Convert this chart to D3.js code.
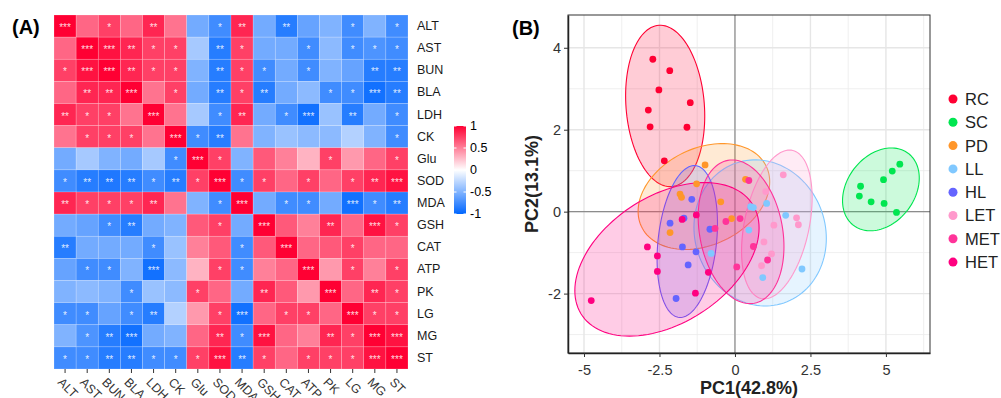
<!DOCTYPE html>
<html>
<head>
<meta charset="utf-8">
<script src="https://d3js.org/d3.v7.min.js"></script>
<style>
body { margin: 0; background: #fff; }
svg { display: block; font-family: "Liberation Sans", Arial, sans-serif; }
</style>
</head>
<body>
<div id="chart"></div>
<script>
// ---- data: correlation heatmap (A) ----
var vars = ["ALT", "AST", "BUN", "BLA", "LDH", "CK", "Glu", "SOD", "MDA", "GSH", "CAT", "ATP", "PK", "LG", "MG", "ST"];
var corrValues = [
    [1, .6, .75, .6, .85, .55, -.55, -.75, .85, -.55, -.85, -.6, -.5, -.75, -.5, -.75],
    [.6, 1, .93, .85, .75, .75, -.35, -.85, .75, -.55, -.55, -.75, -.45, -.75, -.7, -.75],
    [.75, .93, 1, .85, .75, .75, -.5, -.85, .75, -.75, -.55, -.75, -.5, -.6, -.85, -.85],
    [.6, .85, .85, 1, .55, .75, -.55, -.85, .75, -.85, -.55, -.45, -.75, -.75, -.93, -.85],
    [.85, .75, .75, .55, 1, .55, -.35, -.75, .85, -.55, -.75, -.93, -.4, -.85, -.55, -.75],
    [.55, .75, .75, .75, .55, 1, -.75, -.85, .55, -.5, -.4, -.45, -.45, -.3, -.5, -.75],
    [-.55, -.35, -.5, -.55, -.35, -.75, 1, .75, -.5, .65, .5, .3, .75, .4, .6, .75],
    [-.75, -.85, -.88, -.85, -.75, -.85, .75, 1, -.75, .75, .6, .75, .6, .75, .85, .93],
    [.85, .75, .75, .75, .85, .55, -.5, -.75, 1, -.55, -.75, -.75, -.55, -.93, -.75, -.85],
    [-.55, -.6, -.75, -.85, -.55, -.5, .65, .75, -.55, 1, .65, .5, .85, .6, .93, .75],
    [-.85, -.55, -.55, -.55, -.75, -.4, .5, .65, -.75, .65, 1, .6, .65, .75, .6, .6],
    [-.6, -.75, -.75, -.5, -.93, -.45, .3, .75, -.75, .5, .6, 1, .4, .75, .5, .75],
    [-.5, -.45, -.5, -.75, -.4, -.45, .75, .6, -.55, .85, .65, .4, 1, .6, .85, .75],
    [-.75, -.75, -.6, -.75, -.85, -.3, .4, .75, -.93, .6, .75, .75, .6, 1, .75, .75],
    [-.5, -.7, -.85, -.93, -.55, -.5, .6, .85, -.75, .93, .6, .5, .85, .75, 1, .93],
    [-.75, -.75, -.85, -.85, -.75, -.75, .75, .93, -.85, .75, .6, .75, .75, .75, .93, 1]
];
var corrStars = [
    [3, 0, 1, 0, 2, 0, 0, 1, 2, 0, 2, 0, 0, 1, 0, 1],
    [0, 3, 3, 2, 1, 1, 0, 2, 1, 0, 0, 1, 0, 1, 1, 1],
    [1, 3, 3, 2, 1, 1, 0, 2, 1, 1, 0, 1, 0, 0, 2, 2],
    [0, 2, 2, 3, 0, 1, 0, 2, 1, 2, 0, 0, 1, 1, 3, 2],
    [2, 1, 1, 0, 3, 0, 0, 1, 2, 0, 1, 3, 0, 2, 0, 1],
    [0, 1, 1, 1, 0, 3, 1, 2, 0, 0, 0, 0, 0, 0, 0, 1],
    [0, 0, 0, 0, 0, 1, 3, 1, 0, 0, 0, 0, 1, 0, 0, 1],
    [1, 2, 2, 2, 1, 2, 1, 3, 1, 1, 0, 1, 0, 1, 2, 3],
    [2, 1, 1, 1, 2, 0, 0, 1, 3, 0, 1, 1, 0, 3, 1, 2],
    [0, 0, 1, 2, 0, 0, 0, 1, 0, 3, 0, 0, 2, 0, 3, 1],
    [2, 0, 0, 0, 1, 0, 0, 0, 1, 0, 3, 0, 0, 1, 0, 0],
    [0, 1, 1, 0, 3, 0, 0, 1, 1, 0, 0, 3, 0, 1, 0, 1],
    [0, 0, 0, 1, 0, 0, 1, 0, 0, 2, 0, 0, 3, 0, 2, 1],
    [1, 1, 0, 1, 2, 0, 0, 1, 3, 0, 1, 1, 0, 3, 1, 1],
    [0, 1, 2, 3, 0, 0, 0, 2, 1, 3, 0, 0, 2, 1, 3, 3],
    [1, 1, 2, 2, 1, 1, 1, 3, 2, 1, 0, 1, 1, 1, 3, 3]
];
var colorbarTicks = [1, 0.5, 0, -0.5, -1];

// ---- data: PCA scores (B) ----
var groups = ["RC", "SC", "PD", "LL", "HL", "LET", "MET", "HET"];
var groupColors = ["#ff0033", "#00e650", "#ff962a", "#80c8ff", "#6464ff", "#ff99cc", "#ff3399", "#ff0080"];
var pc1 = [
    [-2.72, -2.16, -2.52, -1.48, -2.87, -2.81, -1.59, -2.34],
    [4.16, 4.12, 4.51, 4.94, 4.92, 5.21, 5.46, 5.35],
    [-0.99, -1.27, -1.82, -1.77, -2.15, 0.35, -0.47, -0.11],
    [0.52, 0.61, 1.05, 1.68, 0.46, -0.79, 0.92, 2.22],
    [-1.43, -1.69, -2.15, -0.83, -1.74, -1.29, -1.55, -1.95],
    [1.60, 1.02, 2.04, 2.10, 1.29, 0.96, 1.21, 0.88],
    [0.46, -0.30, 0.17, -0.66, 0.61, 0.06, 1.08],
    [-1.28, -1.75, -2.90, -2.57, -2.57, -1.31, -4.76, -0.88]
];
var pc2 = [
    [3.72, 3.44, 2.97, 2.66, 2.48, 2.07, 2.06, 1.24],
    [0.62, 0.38, 0.24, 0.20, 0.78, 0.99, 1.16, -0.02],
    [1.14, 0.68, 0.43, 0.35, -0.51, 0.79, 0.24, -0.17],
    [0.12, 0.10, 0.20, -0.09, -0.45, -1.02, -1.61, -1.40],
    [0.30, -0.16, -0.28, -0.43, -0.86, -0.98, -1.30, -2.12],
    [0.90, 0.49, -0.15, -0.32, -0.33, -0.74, -1.03, -1.32],
    [0.76, -0.24, -0.17, -0.41, -0.85, -1.35, -1.18],
    [-0.08, -0.19, -0.86, -1.08, -1.46, -1.99, -2.17, -1.48]
];
var xTicks = [-5, -2.5, 0, 2.5, 5];
var yTicks = [-2, 0, 2, 4];

var svg = d3.select("#chart").append("svg")
    .attr("width", 1001)
    .attr("height", 398);

// ================= (A) heatmap =================
var hm = { left: 54, top: 15, size: 354 };
var xb = d3.scaleBand().domain(vars).range([hm.left, hm.left + hm.size]);
var yb = d3.scaleBand().domain(vars).range([hm.top, hm.top + hm.size]);
var color = d3.scaleLinear().domain([-1, 0, 1]).range(["#0066ff", "#ffffff", "#ff0033"]);

var cells = [];
vars.forEach(function (r, i) {
    vars.forEach(function (c, j) {
        cells.push({ r: r, c: c, v: corrValues[i][j], s: corrStars[i][j] });
    });
});
var bw = xb.bandwidth();
svg.append("g").selectAll("rect").data(cells).enter().append("rect")
    .attr("x", d => xb(d.c))
    .attr("y", d => yb(d.r))
    .attr("width", bw)
    .attr("height", bw)
    .attr("fill", d => color(d.v))
    .attr("stroke", "#fff")
    .attr("stroke-opacity", 0.3)
    .attr("stroke-width", 0.6);
svg.append("g").selectAll("text").data(cells.filter(d => d.s > 0)).enter().append("text")
    .attr("x", d => xb(d.c) + bw / 2)
    .attr("y", d => yb(d.r) + bw / 2 + 5)
    .attr("text-anchor", "middle")
    .attr("font-size", "10px")
    .attr("fill", "#fff")
    .attr("fill-opacity", 0.85)
    .text(d => "*".repeat(d.s));

// x axis (rotated labels)
var xax = svg.append("g")
    .attr("transform", "translate(0," + (hm.top + hm.size) + ")")
    .call(d3.axisBottom(xb).tickSize(4).tickSizeOuter(0));
xax.select(".domain").remove();
xax.selectAll("line").attr("stroke", "#333");
xax.selectAll("text")
    .attr("x", 0).attr("y", 0).attr("dy", 0)
    .attr("transform", "translate(-8,14) rotate(45)")
    .attr("text-anchor", "start")
    .attr("font-size", "12.5px")
    .attr("fill", "#333");

// y axis labels on the right
var yax = svg.append("g")
    .attr("transform", "translate(" + (hm.left + hm.size) + ",0)")
    .call(d3.axisRight(yb).tickSize(0).tickPadding(9));
yax.select(".domain").remove();
yax.selectAll("text")
    .attr("font-size", "12.5px")
    .attr("fill", "#1a1a1a");

// colorbar
var cb = { x: 454, w: 12, top: 126, bottom: 214 };
var cy = d3.scaleLinear().domain([-1, 1]).range([cb.bottom, cb.top]);
var grad = svg.append("defs").append("linearGradient")
    .attr("id", "cbgrad").attr("x1", 0).attr("y1", 1).attr("x2", 0).attr("y2", 0);
d3.range(-1, 1.01, 0.25).forEach(function (v) {
    grad.append("stop").attr("offset", (v + 1) / 2).attr("stop-color", color(v));
});
svg.append("rect")
    .attr("x", cb.x).attr("y", cb.top)
    .attr("width", cb.w).attr("height", cb.bottom - cb.top)
    .attr("fill", "url(#cbgrad)");
var cbg = svg.append("g").selectAll("g").data(colorbarTicks).enter().append("g");
cbg.append("line")
    .attr("x1", cb.x).attr("x2", cb.x + 2.5)
    .attr("y1", d => cy(d)).attr("y2", d => cy(d))
    .attr("stroke", "#fff");
cbg.append("line")
    .attr("x1", cb.x + cb.w - 2.5).attr("x2", cb.x + cb.w)
    .attr("y1", d => cy(d)).attr("y2", d => cy(d))
    .attr("stroke", "#fff");
cbg.append("text")
    .attr("x", cb.x + cb.w + 4)
    .attr("y", d => cy(d))
    .attr("dy", "0.35em")
    .attr("font-size", "12.5px")
    .attr("fill", "#000")
    .text(d => String(d));

svg.append("text")
    .attr("x", 12).attr("y", 34)
    .attr("font-size", "20px").attr("font-weight", "bold")
    .text("(A)");

// ================= (B) PCA =================
var pn = { left: 568, right: 930, top: 15, bottom: 353 };
var px = d3.scaleLinear().domain([-5.53, 6.46]).range([pn.left, pn.right]);
var py = d3.scaleLinear().domain([-3.45, 4.8]).range([pn.bottom, pn.top]);

svg.select("defs").append("clipPath").attr("id", "pclip")
    .append("rect")
    .attr("x", pn.left).attr("y", pn.top)
    .attr("width", pn.right - pn.left).attr("height", pn.bottom - pn.top);

var grid = svg.append("g");
var minorX = [-3.75, -1.25, 1.25, 3.75, 6.25];
var minorY = [-3, -1, 1, 3];
grid.selectAll(".mx").data(minorX).enter().append("line")
    .attr("x1", d => px(d)).attr("x2", d => px(d))
    .attr("y1", pn.top).attr("y2", pn.bottom)
    .attr("stroke", "#ebebeb").attr("stroke-width", 0.8);
grid.selectAll(".my").data(minorY).enter().append("line")
    .attr("y1", d => py(d)).attr("y2", d => py(d))
    .attr("x1", pn.left).attr("x2", pn.right)
    .attr("stroke", "#ebebeb").attr("stroke-width", 0.8);
grid.selectAll(".gx").data(xTicks).enter().append("line")
    .attr("x1", d => px(d)).attr("x2", d => px(d))
    .attr("y1", pn.top).attr("y2", pn.bottom)
    .attr("stroke", "#e6e6e6").attr("stroke-width", 1.4);
grid.selectAll(".gy").data(yTicks).enter().append("line")
    .attr("y1", d => py(d)).attr("y2", d => py(d))
    .attr("x1", pn.left).attr("x2", pn.right)
    .attr("stroke", "#e6e6e6").attr("stroke-width", 1.4);
// zero lines
grid.append("line")
    .attr("x1", px(0)).attr("x2", px(0)).attr("y1", pn.top).attr("y2", pn.bottom)
    .attr("stroke", "#8c8c8c").attr("stroke-width", 1.2);
grid.append("line")
    .attr("y1", py(0)).attr("y2", py(0)).attr("x1", pn.left).attr("x2", pn.right)
    .attr("stroke", "#8c8c8c").attr("stroke-width", 1.2);

// 95% normal confidence ellipses computed from the scores
var chi = Math.sqrt(5.991);
function ellipse(xs, ys) {
    var n = xs.length, mx = d3.mean(xs), my = d3.mean(ys);
    var sxx = d3.sum(xs, d => (d - mx) * (d - mx)) / (n - 1);
    var syy = d3.sum(ys, d => (d - my) * (d - my)) / (n - 1);
    var sxy = d3.sum(xs.map((d, i) => (d - mx) * (ys[i] - my))) / (n - 1);
    var l00 = Math.sqrt(sxx), l10 = sxy / l00, l11 = Math.sqrt(syy - l10 * l10);
    return d3.range(0, 120).map(function (k) {
        var t = 2 * Math.PI * k / 120;
        return [mx + chi * l00 * Math.cos(t), my + chi * (l10 * Math.cos(t) + l11 * Math.sin(t))];
    });
}
var line = d3.line().x(d => px(d[0])).y(d => py(d[1])).curve(d3.curveLinearClosed);
var eg = svg.append("g").attr("clip-path", "url(#pclip)");
groups.forEach(function (g, i) {
    eg.append("path")
        .attr("d", line(ellipse(pc1[i], pc2[i])))
        .attr("fill", groupColors[i])
        .attr("fill-opacity", 0.2)
        .attr("stroke", groupColors[i])
        .attr("stroke-width", 1.1);
});
var ptg = svg.append("g").attr("clip-path", "url(#pclip)");
groups.forEach(function (g, i) {
    ptg.selectAll(".p" + i).data(pc1[i]).enter().append("circle")
        .attr("cx", d => px(d))
        .attr("cy", (d, j) => py(pc2[i][j]))
        .attr("r", 3.4)
        .attr("fill", groupColors[i]);
});

// border + axes
svg.append("rect")
    .attr("x", pn.left).attr("y", pn.top)
    .attr("width", pn.right - pn.left).attr("height", pn.bottom - pn.top)
    .attr("fill", "none").attr("stroke", "#333").attr("stroke-width", 1);
var bax = svg.append("g")
    .attr("transform", "translate(0," + pn.bottom + ")")
    .call(d3.axisBottom(px).tickValues(xTicks).tickSize(4).tickSizeOuter(0).tickFormat(d => String(d)));
var lax = svg.append("g")
    .attr("transform", "translate(" + pn.left + ",0)")
    .call(d3.axisLeft(py).tickValues(yTicks).tickSize(4).tickSizeOuter(0).tickFormat(d => String(d)));
[bax, lax].forEach(function (a) {
    a.select(".domain").attr("stroke", "#222").attr("stroke-width", 1.5);
    a.selectAll("line").attr("stroke", "#333");
    a.selectAll("text").attr("font-size", "14.5px").attr("fill", "#333");
});
bax.selectAll("text").attr("dy", "1.05em");

svg.append("text")
    .attr("x", (pn.left + pn.right) / 2).attr("y", 394)
    .attr("text-anchor", "middle")
    .attr("font-size", "18px").attr("font-weight", "bold").attr("fill", "#222")
    .text("PC1(42.8%)");
svg.append("text")
    .attr("transform", "translate(538," + ((pn.top + pn.bottom) / 2) + ") rotate(-90)")
    .attr("text-anchor", "middle")
    .attr("font-size", "18px").attr("font-weight", "bold").attr("fill", "#222")
    .text("PC2(13.1%)");

svg.append("text")
    .attr("x", 512).attr("y", 35)
    .attr("font-size", "20px").attr("font-weight", "bold")
    .text("(B)");

// legend
var lg = svg.append("g").selectAll("g").data(groups).enter().append("g")
    .attr("transform", (d, i) => "translate(953," + (99 + i * 23.3) + ")");
lg.append("circle").attr("r", 4.5).attr("fill", (d, i) => groupColors[i]);
lg.append("text")
    .attr("x", 12).attr("dy", "0.36em")
    .attr("font-size", "16.5px").attr("fill", "#222")
    .text(d => d);
</script>
</body>
</html>
